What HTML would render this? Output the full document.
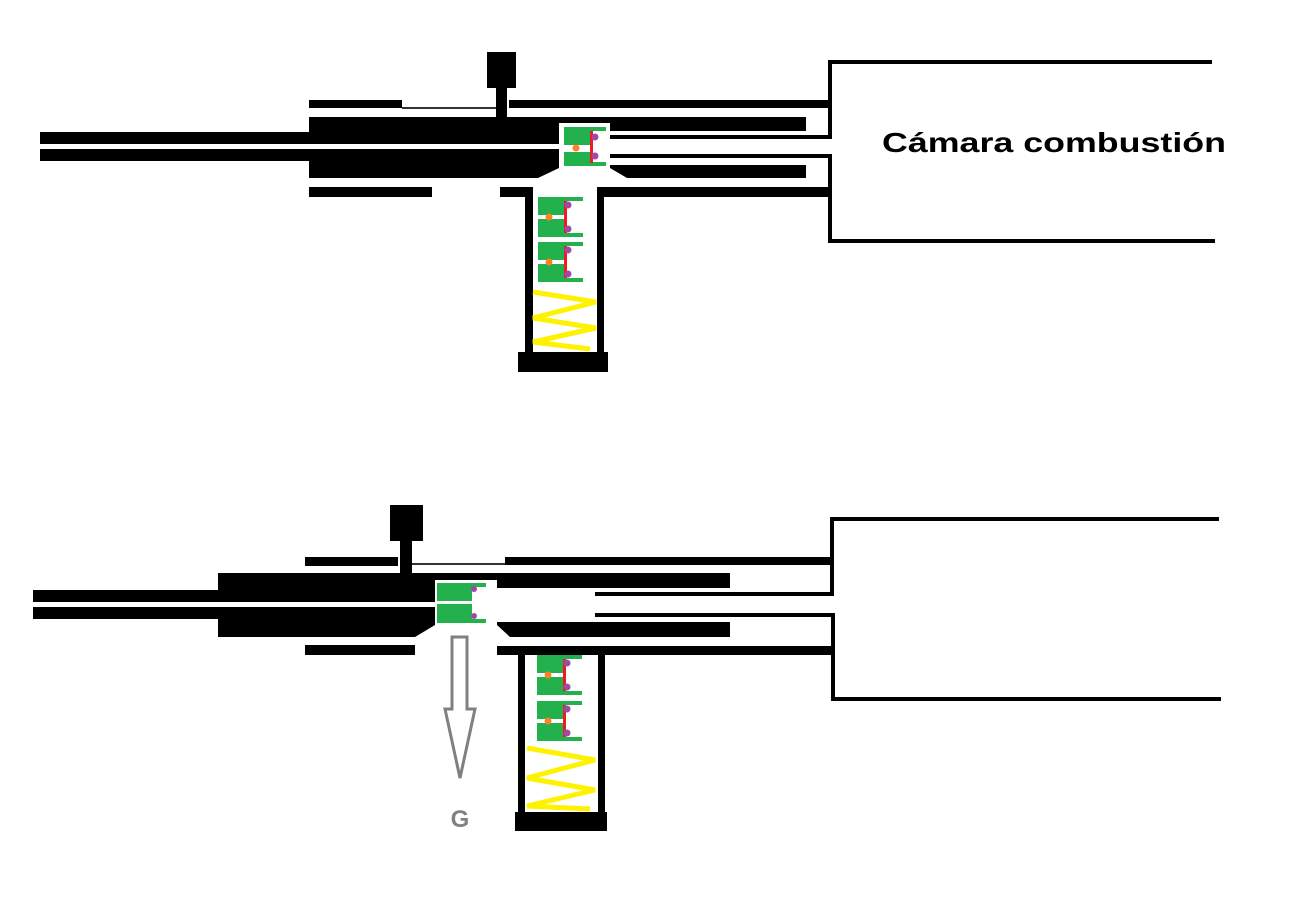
<!DOCTYPE html>
<html><head><meta charset="utf-8"><style>
html,body{margin:0;padding:0;background:#fff;}
svg{display:block;}
</style></head><body>
<svg width="1300" height="897" viewBox="0 0 1300 897" xmlns="http://www.w3.org/2000/svg">
<rect width="1300" height="897" fill="#fff"/>
<defs>
<g id="grp">
  <rect x="0" y="0" width="26" height="18" fill="#22b14c"/>
  <rect x="26" y="0" width="19" height="4" fill="#22b14c"/>
  <rect x="0" y="22" width="26" height="18" fill="#22b14c"/>
  <rect x="26" y="36" width="19" height="4" fill="#22b14c"/>
  <rect x="26" y="4" width="3" height="32" fill="#ed1c24"/>
  <circle cx="30" cy="8" r="3.5" fill="#a349a4"/>
  <circle cx="30" cy="32" r="3.5" fill="#a349a4"/>
  <circle cx="11" cy="20" r="3.5" fill="#ff7f27"/>
</g>
</defs>

<!-- ===== TOP FIGURE ===== -->
<g fill="#000">
  <rect x="487" y="52" width="29" height="36"/>
  <rect x="496" y="88" width="11" height="30"/>
  <rect x="309" y="100" width="93" height="8"/>
  <rect x="402" y="107" width="94" height="2" fill="#333"/>
  <rect x="509" y="100" width="323" height="8"/>
  <rect x="40" y="132" width="280" height="12"/>
  <rect x="40" y="149" width="280" height="12"/>
  <polygon points="309,117 806,117 806,131 610,131 610,165 806,165 806,178 309,178"/>
  <rect x="606" y="135" width="226" height="4"/>
  <rect x="606" y="154" width="226" height="4"/>
  <rect x="309" y="187" width="123" height="10"/>
  <rect x="500" y="187" width="332" height="10"/>
  <rect x="525" y="187" width="8" height="166"/>
  <rect x="597" y="187" width="7" height="166"/>
  <rect x="518" y="352" width="90" height="20"/>
  <rect x="828" y="60" width="4" height="79"/>
  <rect x="828" y="60" width="384" height="4"/>
  <rect x="828" y="154" width="4" height="89"/>
  <rect x="828" y="239" width="387" height="4"/>
</g>
<rect x="40" y="144" width="520" height="5" fill="#fff"/>
<polygon points="559,123 610,123 610,168 627,178 627,187 500,187 538,187 538,178 559,168" fill="#fff"/>
<rect x="533" y="197" width="64" height="155" fill="#fff"/>
<rect x="533" y="178" width="64" height="19" fill="#fff"/>
<rect x="432" y="178" width="68" height="9" fill="#fff"/>
<g>
  <rect x="564" y="127" width="26" height="18" fill="#22b14c"/>
  <rect x="590" y="127" width="16" height="4" fill="#22b14c"/>
  <rect x="564" y="152" width="26" height="14" fill="#22b14c"/>
  <rect x="590" y="162" width="16" height="4" fill="#22b14c"/>
  <rect x="590" y="131" width="3" height="32" fill="#ed1c24"/>
  <circle cx="595" cy="137" r="3.5" fill="#a349a4"/>
  <circle cx="595" cy="156" r="3.5" fill="#a349a4"/>
  <circle cx="576" cy="148" r="3.5" fill="#ff7f27"/>
</g>
<use href="#grp" x="538" y="197"/>
<use href="#grp" x="538" y="242"/>
<polyline points="533,292 596,302 533,318 596,328 533,342 590,349" fill="none" stroke="#fff200" stroke-width="5"/>
<text x="882" y="152" font-family="Liberation Sans, Arial, sans-serif" font-weight="bold" font-size="28" textLength="344" lengthAdjust="spacingAndGlyphs" fill="#000">Cámara combustión</text>

<!-- ===== BOTTOM FIGURE ===== -->
<g fill="#000">
  <rect x="390" y="505" width="33" height="36"/>
  <rect x="400" y="541" width="12" height="33"/>
  <rect x="305" y="557" width="93" height="9"/>
  <rect x="412" y="563" width="93" height="2" fill="#333"/>
  <rect x="505" y="557" width="329" height="8"/>
  <rect x="33" y="590" width="200" height="12"/>
  <rect x="33" y="607" width="200" height="12"/>
  <polygon points="218,573 730,573 730,588 497,588 497,622 730,622 730,637 218,637"/>
  <rect x="595" y="592" width="239" height="4"/>
  <rect x="595" y="613" width="239" height="4"/>
  <rect x="305" y="645" width="110" height="10"/>
  <rect x="497" y="646" width="337" height="9"/>
  <rect x="518" y="646" width="7" height="167"/>
  <rect x="598" y="646" width="7" height="167"/>
  <rect x="515" y="812" width="92" height="19"/>
  <rect x="830" y="517" width="4" height="79"/>
  <rect x="830" y="517" width="389" height="4"/>
  <rect x="831" y="613" width="4" height="88"/>
  <rect x="831" y="697" width="390" height="4"/>
</g>
<rect x="33" y="602" width="404" height="5" fill="#fff"/>
<polygon points="435,580 497,580 497,625 510,637 510,646 415,646 415,637 435,625" fill="#fff"/>
<rect x="525" y="655" width="73" height="157" fill="#fff"/>
<g>
  <rect x="437" y="583" width="35" height="18" fill="#22b14c"/>
  <rect x="472" y="583" width="14" height="4" fill="#22b14c"/>
  <rect x="437" y="604" width="35" height="19" fill="#22b14c"/>
  <rect x="472" y="619" width="14" height="4" fill="#22b14c"/>
  <circle cx="474" cy="589" r="3" fill="#a349a4"/>
  <circle cx="474" cy="616" r="3" fill="#a349a4"/>
</g>
<use href="#grp" x="537" y="655"/>
<use href="#grp" x="537" y="701"/>
<polyline points="527,748 595,760 527,778 595,790 527,806 590,809" fill="none" stroke="#fff200" stroke-width="5"/>
<path d="M452,637 L467,637 L467,709 L475,709 L460,778 L445,709 L452,709 Z" fill="#fff" stroke="#808080" stroke-width="3"/>
<text x="460" y="827" text-anchor="middle" font-family="Liberation Sans, Arial, sans-serif" font-weight="bold" font-size="24" fill="#808080">G</text>
</svg>
</body></html>
